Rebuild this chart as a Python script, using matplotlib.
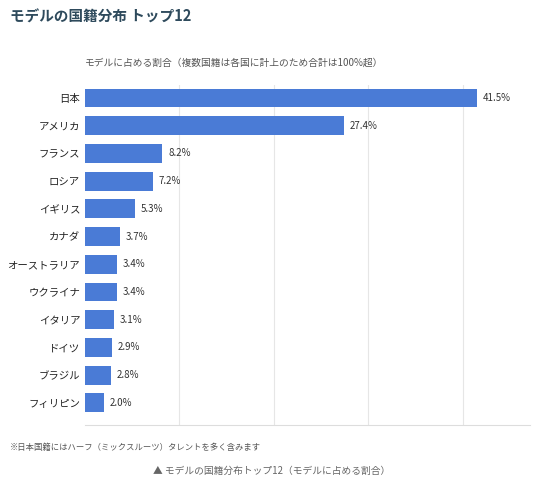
import matplotlib
matplotlib.use("Agg")
import matplotlib.pyplot as plt

plt.rcParams['font.family'] = ['Noto Sans CJK JP', 'DejaVu Sans']

countries = ["日本", "アメリカ", "フランス", "ロシア", "イギリス", "カナダ", "オーストラリア",
             "ウクライナ", "イタリア", "ドイツ", "ブラジル", "フィリピン"]
values = [41.5, 27.4, 8.2, 7.2, 5.3, 3.7, 3.4, 3.4, 3.1, 2.9, 2.8, 2.0]

W, H = 544, 486
fig = plt.figure(figsize=(W/100, H/100), dpi=100)
ax = fig.add_axes([85/W, 1-425/H, 445/W, (425-85)/H])

y = list(range(len(countries)))
ax.barh(y, values, height=0.68, color="#4a7bd6", zorder=3)
for yi, v in zip(y, values):
    ax.text(v + 0.6, yi, f"{v}%", va="center", ha="left", fontsize=7, color="#333333")
ax.set_yticks(y)
ax.set_yticklabels(countries, fontsize=7.5, color="#222222")
ax.set_ylim(11.8, -0.47)
ax.set_xlim(0, 47.1)
ax.set_xticks([10, 20, 30, 40])
ax.set_xticklabels([])
ax.tick_params(axis='both', length=0)
ax.grid(axis='x', color="#e6e6e6", linewidth=0.8, zorder=0)
for s in ["top", "right", "left"]:
    ax.spines[s].set_visible(False)
ax.spines["bottom"].set_color("#dddddd")

fig.text(10/W, 1-17/H, "モデルの国籍分布 トップ12", fontsize=10.5, fontweight="bold",
         color="#2e4a5c", va="center")
fig.text(85/W, 1-63/H, "モデルに占める割合（複数国籍は各国に計上のため合計は100%超）",
         fontsize=7, color="#555555", va="center")
fig.text(10/W, 1-447/H, "※日本国籍にはハーフ（ミックスルーツ）タレントを多く含みます",
         fontsize=6, color="#555555", va="center")
fig.text(272/W, 1-471/H, "▲ モデルの国籍分布トップ12（モデルに占める割合）",
         fontsize=7, color="#666666", va="center", ha="center", style="italic")

fig.savefig("out.png", dpi=100)
